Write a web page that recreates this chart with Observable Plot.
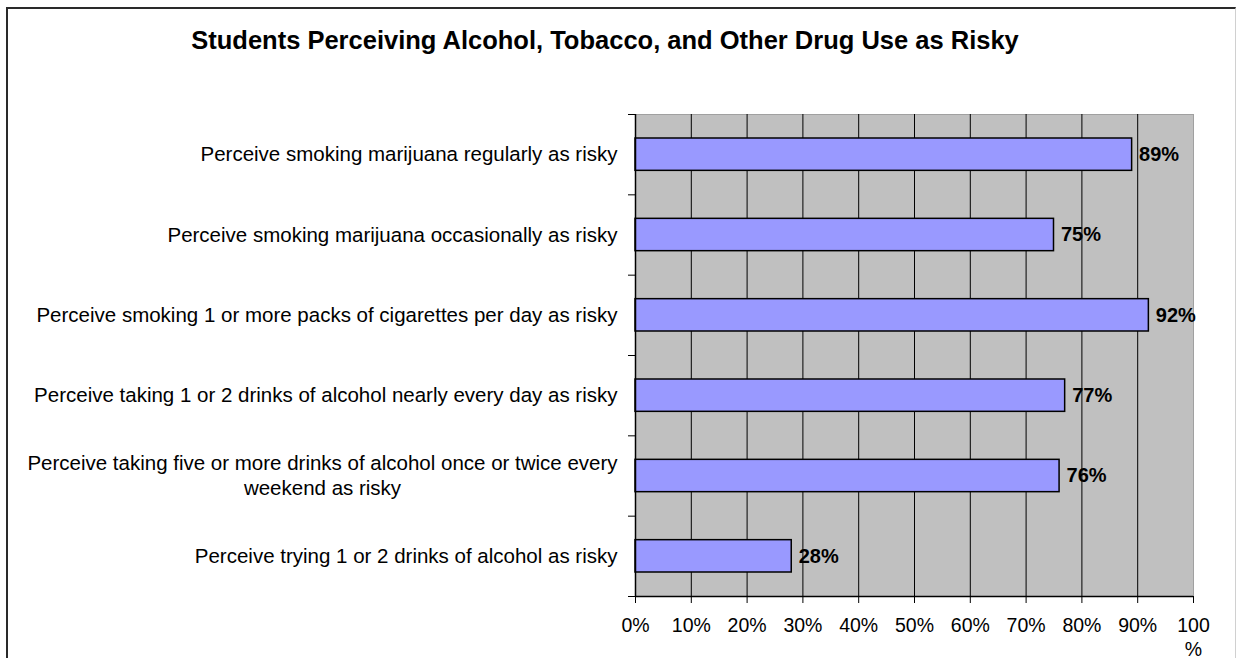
<!DOCTYPE html>
<html>
<head>
<meta charset="utf-8">
<script src="https://cdn.jsdelivr.net/npm/d3@7"></script>
<script src="https://cdn.jsdelivr.net/npm/@observablehq/plot@0.6"></script>
<style>
  html, body { margin: 0; padding: 0; background: #fff; }
  #wrap { position: relative; width: 1236px; height: 658px; overflow: hidden; font-family: "Liberation Sans", Arial, sans-serif; }
  #frame { position: absolute; left: 6px; top: 7px; width: 1227px; height: 700px; border-left: 2px solid #2a2a2a; border-top: 2px solid #2a2a2a; border-right: 1px solid #d0d0d0; }
  #title { position: absolute; left: 0; width: 1210px; top: 26px; text-align: center; font-weight: bold; font-size: 25.5px; color: #000; white-space: nowrap; }
  #chart { position: absolute; left: 0; top: 0; }
</style>
</head>
<body>
<div id="wrap">
  <div id="frame"></div>
  <div id="title">Students Perceiving Alcohol, Tobacco, and Other Drug Use as Risky</div>
  <div id="chart"></div>
</div>
<script>
const categories = [
  "Perceive smoking marijuana regularly as risky",
  "Perceive smoking marijuana occasionally as risky",
  "Perceive smoking 1 or more packs of cigarettes per day as risky",
  "Perceive taking 1 or 2 drinks of alcohol nearly every day as risky",
  "Perceive taking five or more drinks of alcohol once or twice every\nweekend as risky",
  "Perceive trying 1 or 2 drinks of alcohol as risky"
];
const values = [89, 75, 92, 77, 76, 28];
const xTicks = [0, 10, 20, 30, 40, 50, 60, 70, 80, 90, 100];

const data = categories.map((c, i) => ({category: c, value: values[i], idx: i}));
const single = data.filter(d => !d.category.includes("\n"));
const multi = data.filter(d => d.category.includes("\n"));

const chart = Plot.plot({
  width: 1236,
  height: 658,
  marginLeft: 635,
  marginRight: 43,
  marginTop: 114,
  marginBottom: 62,
  style: { fontFamily: "'Liberation Sans', Arial, sans-serif", fontSize: "20px", background: "transparent", overflow: "visible" },
  x: { domain: [0, 100], ticks: xTicks },
  y: { domain: [categories.length, 0], ticks: d3.range(categories.length + 1) },
  marks: [
    Plot.frame({ fill: "#c0c0c0", stroke: "#a0a0a0" }),
    Plot.ruleX(xTicks.filter(t => t > 0 && t < 100), { stroke: "#000", strokeWidth: 1 }),
    Plot.rectX(data, { x1: 0, x2: "value", y1: "idx", y2: d => d.idx + 1, insetTop: 24, insetBottom: 24, fill: "#9999ff", stroke: "#000", strokeWidth: 1.5 }),
    Plot.text(data, { x: "value", y: d => d.idx + 0.5, text: d => d.value + "%", textAnchor: "start", dx: 7, fontWeight: "bold", fontSize: 20, fill: "#000" }),
    Plot.text(single, { x: 0, y: d => d.idx + 0.5, text: "category", textAnchor: "end", dx: -18, fill: "#000", fontSize: 20.5 }),
    Plot.text(multi, { x: 0, y: d => d.idx + 0.5, text: "category", textAnchor: "middle", dx: -313, dy: -2, lineHeight: 1.22, fill: "#000", fontSize: 20.5 }),
    Plot.ruleX([0], { stroke: "#000", strokeWidth: 1.5 }),
    Plot.ruleY([categories.length], { stroke: "#000", strokeWidth: 1.5 }),
    Plot.axisY({ ticks: d3.range(categories.length + 1), tickFormat: () => "", tickSize: 7, stroke: "#000", label: null }),
    Plot.axisX({ ticks: xTicks, tickFormat: d => d === 100 ? "100\n%" : d + "%", tickSize: 7, tickPadding: 12, stroke: "#000", fill: "#000", label: null, lineHeight: 1.2, fontSize: 19.5 })
  ]
});
document.getElementById("chart").appendChild(chart);
</script>
</body>
</html>
